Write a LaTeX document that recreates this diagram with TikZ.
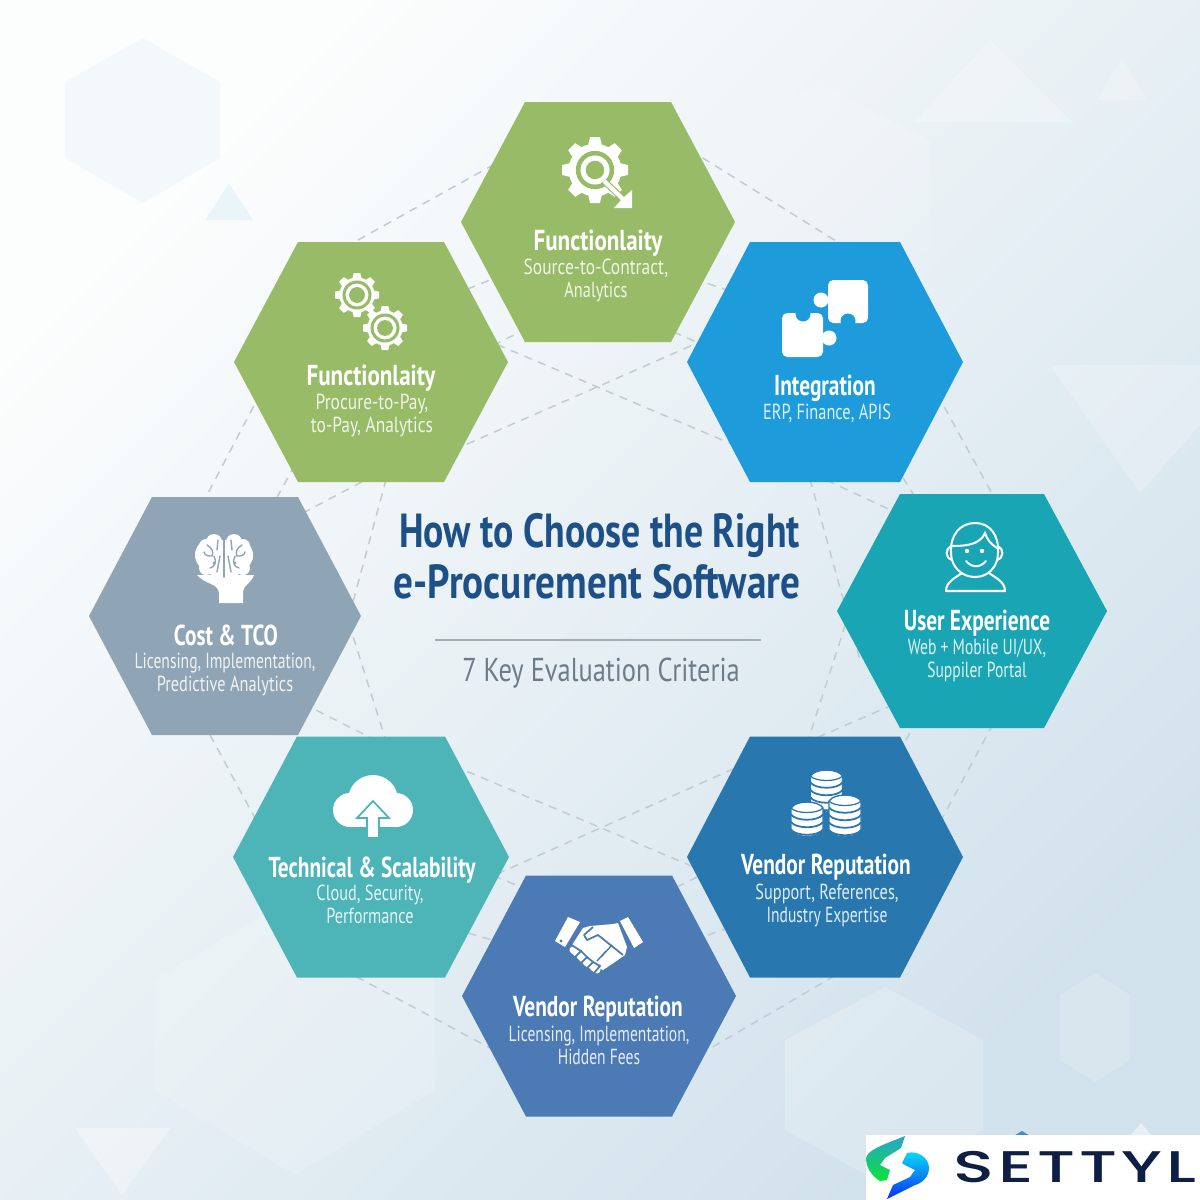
\documentclass[tikz,border=0pt]{standalone}
\usepackage{fontspec}
\usetikzlibrary{calc}
\setmainfont[FakeStretch=0.8]{PT Sans}
\newfontfamily\logofont[FakeStretch=1.52,LetterSpace=9]{Poppins Medium}
\newfontfamily\headf[FakeStretch=0.74]{PT Sans}
\newfontfamily\subf[FakeStretch=0.75]{PT Sans}
\newfontfamily\subg[FakeStretch=0.715]{PT Sans}
\newfontfamily\titlea[FakeStretch=0.79]{PT Sans}
\newfontfamily\titleb[FakeStretch=0.82]{PT Sans}
\definecolor{cgreen}{HTML}{97BB67}
\definecolor{cblue}{HTML}{1D9BDB}
\definecolor{cteal}{HTML}{19A5B3}
\definecolor{cvrep}{HTML}{2877AE}
\definecolor{cbot}{HTML}{4B7AB5}
\definecolor{ctech}{HTML}{4DB4B8}
\definecolor{ccost}{HTML}{8FA5B5}
\definecolor{ctitle}{HTML}{1E5088}
\definecolor{csub}{HTML}{6E7C88}
\definecolor{clink}{HTML}{C2CBD3}
\definecolor{clogo}{HTML}{0E1F45}
\definecolor{bga}{HTML}{FCFDFD}
\definecolor{bgb}{HTML}{EEF4F7}
\definecolor{bgc}{HTML}{D2E2EC}
\tikzset{
  link/.style={draw=clink,line width=0.42pt,dash pattern=on 2.3pt off 1.9pt},
  headtext/.style={text=white,font=#1\fontsize{8.2}{8.2}\selectfont\bfseries,inner sep=0pt},
  headtext/.default=\headf,
  subtext/.style={text=white,text opacity=.86,font=#1\fontsize{6.2}{6.7}\selectfont,align=center,inner sep=0pt},
  subtext/.default=\subf,
  deco/.style={fill=white,fill opacity=.22},
  decoblue/.style={fill=cblue,fill opacity=.07}
}
\newcommand\hexa[5]{\fill[#5,shift={(#1)}] (-#2,0)--(-#4,-#3)--(#4,-#3)--(#2,0)--(#4,#3)--(-#4,#3)--cycle;}
\newcommand\gearicon[6]{%
 \begin{scope}[shift={(#1,#2)}]
  \fill[white] (0,0) circle ({#3*.8});
  \foreach \k in {1,...,#4}{\fill[white,rotate={\k*360/#4}] ({#3*.7},{-#3*.22})--(#3,{-#3*.15})--(#3,{#3*.15})--({#3*.7},{#3*.22})--cycle;}
  \fill[#5] (0,0) circle ({#3*#6});
  \fill[white] (0,0) circle ({#3*(#6-.14)});
  \fill[#5] (0,0) circle ({#3*(#6-.3)});
 \end{scope}}
\newcommand\coinstack[4]{%
 \pgfmathsetmacro\xa{#1-16}\pgfmathsetmacro\xb{#1+16}\pgfmathsetmacro\xc{#1-11}\pgfmathsetmacro\xd{#1+11}
 \pgfmathsetmacro\yb{#2+#3*7.5}
 \filldraw[fill=white,draw=#4,line width=.4pt] (\xa,#2)--(\xa,\yb) .. controls (\xc,{\yb+8}) and (\xd,{\yb+8}) .. (\xb,\yb)--(\xb,#2) .. controls (\xd,{#2-8}) and (\xc,{#2-8}) .. cycle;
 \draw[#4,line width=.35pt] (\xa,#2) .. controls (\xc,{#2+6}) and (\xd,{#2+6}) .. (\xb,#2);
 \foreach \i in {1,...,#3}{\draw[#4,line width=.5pt] (\xa,{#2+\i*7.5-1}) .. controls (\xc,{#2+\i*7.5+6}) and (\xd,{#2+\i*7.5+6}) .. (\xb,{#2+\i*7.5-1});}
}
\begin{document}
\begin{tikzpicture}[x=0.01cm,y=-0.01cm]
\useasboundingbox (0,0) rectangle (1200,1200);
% background
\shade[top color=bga,middle color=bgb,bottom color=bgc,shading angle=45] (0,0) rectangle (1200,1200);
% faint background shapes
\fill[fill=cblue,fill opacity=.04] (143,38)--(220,82)--(220,158)--(143,203)--(65,158)--(65,82)--cycle;
\fill[decoblue] (229,183)--(253,220)--(205,220)--cycle;
\fill[deco] (990,40)--(1072,122)--(915,122)--cycle;
\fill[deco] (1122,58)--(1147,100)--(1097,100)--cycle;
\fill[deco] (1050,365)--(1200,365)--(1200,425)--(1140,493)--cycle;
\fill[deco,fill opacity=.12] (820,85)--(930,140)--(930,250)--(820,305)--(715,250)--(715,140)--cycle;
\fill[deco,fill opacity=.2] (885,987)--(983,1040)--(983,1130)--(885,1185)--(785,1130)--(785,1040)--cycle;
\fill[deco,fill opacity=.14] (1095,973)--(1130,995)--(1130,1060)--(1095,1082)--(1060,1060)--(1060,995)--cycle;
\fill[deco,fill opacity=.16] (295,895)--(435,980)--(435,1090)--(295,1175)--(155,1090)--(155,980)--cycle;
\fill[deco,fill opacity=.32] (75,1128)--(170,1128)--(122,1195)--cycle;
\fill[deco,fill opacity=.5] (1141,1123)--(1155,1140)--(1127,1140)--cycle;
\fill[cvrep,fill opacity=.8] (1022,1131)--(1032,1137)--(1012,1137)--cycle;
% hub coordinates
\coordinate (top) at (598,222);
\coordinate (func) at (371,362);
\coordinate (integ) at (825,362);
\coordinate (ux) at (972,611);
\coordinate (cost) at (225,616);
\coordinate (tech) at (371,857);
\coordinate (vrep) at (825,857);
\coordinate (bot) at (599,996);
% dashed connectors
\draw[link] ($(top)+(-78,-72)$) -- ($(func)+(-31,-112)$);
\draw[link] ($(top)+(92,-72)$) -- ($(integ)+(35,-106)$);
\draw[link] ($(integ)+(105,19)$) -- ($(ux)+(28,-103)$);
\draw[link] ($(ux)+(28,100)$) -- ($(vrep)+(105,-16)$);
\draw[link] ($(vrep)+(35,104)$) -- ($(bot)+(81,70)$);
\draw[link] ($(bot)+(-79,68)$) -- ($(tech)+(-31,111)$);
\draw[link] ($(tech)+(-101,-11)$) -- ($(cost)+(-30,91)$);
\draw[link] ($(cost)+(-30,-98)$) -- ($(func)+(-101,13)$);
\draw[link] ($(func)+(69,94)$) -- ($(integ)+(-105,-29)$);
\draw[link] ($(func)+(99,-29)$) -- ($(integ)+(-65,94)$);
\draw[link] ($(func)+(69,-62)$) -- ($(top)+(-78,46)$);
\draw[link] ($(func)+(109,-10)$) -- ($(top)+(-58,100)$);
\draw[link] ($(top)+(82,52)$) -- ($(integ)+(-75,-64)$);
\draw[link] ($(top)+(62,104)$) -- ($(integ)+(-115,-14)$);
\draw[link] ($(integ)+(-19,103)$) -- ($(ux)+(-112,49)$);
\draw[link] ($(integ)+(-25,106)$) -- ($(ux)+(-62,-92)$);
\draw[link] ($(integ)+(70,103)$) -- ($(ux)+(-52,-106)$);
\draw[link] ($(ux)+(-122,-1)$) -- ($(vrep)+(-20,-107)$);
\draw[link] ($(ux)+(-52,82)$) -- ($(vrep)+(-25,-112)$);
\draw[link] ($(ux)+(-47,97)$) -- ($(vrep)+(70,-99)$);
\draw[link] ($(func)+(19,103)$) -- ($(cost)+(115,34)$);
\draw[link] ($(cost)+(115,-21)$) -- ($(tech)+(21,-97)$);
\draw[link] ($(func)+(4,113)$) -- ($(cost)+(55,-91)$);
\draw[link] ($(cost)+(65,81)$) -- ($(tech)+(24,-107)$);
\draw[link] ($(func)+(-76,103)$) -- ($(cost)+(45,-106)$);
\draw[link] ($(tech)+(69,-97)$) -- ($(vrep)+(-105,21)$);
\draw[link] ($(tech)+(99,29)$) -- ($(vrep)+(-65,-100)$);
\draw[link] ($(tech)+(109,13)$) -- ($(bot)+(-54,-99)$);
\draw[link] ($(tech)+(69,68)$) -- ($(bot)+(-89,-51)$);
\draw[link] ($(bot)+(51,-96)$) -- ($(vrep)+(-105,9)$);
\draw[link] ($(bot)+(81,-51)$) -- ($(vrep)+(-75,63)$);
% hexagons
\hexa{top}{137}{120}{73}{cgreen}
\hexa{func}{137}{120}{73}{cgreen}
\hexa{integ}{138}{120}{75}{cblue}
\hexa{ux}{135}{117}{72}{cteal}
\hexa{cost}{136}{119}{73}{ccost}
\hexa{tech}{138}{120.5}{74}{ctech}
\hexa{vrep}{138}{120.5}{75}{cvrep}
\hexa{bot}{137}{120.5}{73}{cbot}
% texts
\node[headtext=\rmfamily] (h1) at (598,243) {Functionlaity};
\node[subtext,anchor=north] (s1) at (596,258) {{\rmfamily Source-to-Contract,}\\Analytics};
\node[headtext=\rmfamily] (h2) at (371,378) {Functionlaity};
\node[subtext=\rmfamily,anchor=north] (s2) at (372,393) {Procure-to-Pay,\\to-Pay, Analytics};
\node[headtext] (h3) at (825,388) {Integration};
\node[subtext,anchor=north] (s3) at (827,403) {ERP, Finance, APIS};
\node[headtext] (h4) at (977,623) {User Experience};
\node[subtext=\subg,anchor=north] (s4) at (977,638) {Web + Mobile UI/UX,\\Suppiler Portal};
\node[headtext] (h5) at (226,635) {Cost \& TCO};
\node[subtext,anchor=north] (s5) at (225,652) {{\subg Licensing, Implementation,}\\Predictive Analytics};
\node[headtext] (h6) at (372,870) {Technical \& Scalability};
\node[subtext,anchor=north] (s6) at (370,884) {Cloud, Security,\\Performance};
\node[headtext] (h7) at (826,867) {Vendor Reputation};
\node[subtext,anchor=north] (s7) at (827,883) {Support, References,\\{\subg Industry Expertise}};
\node[headtext] (h8) at (598,1009) {Vendor Reputation};
\node[subtext=\subg,anchor=north] (s8) at (599,1025) {Licensing, Implementation,\\Hidden Fees};
% centre
\node[text=ctitle,font=\titlea\fontsize{13.6}{13.6}\selectfont\bfseries,inner sep=0pt] (t1) at (599.5,535.5) {How to Choose the Right};
\node[text=ctitle,font=\titleb\fontsize{13.6}{13.6}\selectfont\bfseries,inner sep=0pt] (t2) at (597,582) {e-Procurement Software};
\coordinate (ruleL) at (435,640);
\coordinate (ruleR) at (761,640);
\draw[draw=clink!85!black,line width=.55pt] (ruleL) -- (ruleR);
\node[text=csub,font=\fontsize{9.4}{9.4}\selectfont,inner sep=0pt] (t3) at (601,673) {7 Key Evaluation Criteria};
% icon: gear + magnifier
\gearicon{595}{170}{33}{8}{cgreen}{.58}
\draw[cgreen,line width=1.8pt] (604,181) -- (622,198);
\fill[white] (605,179)--(609,183)--(624,197)--(632,190)--(632,208)--(614,208)--(621,200)--(603,183)--cycle;
% icon: two gears
\gearicon{357}{295}{22}{8}{cgreen}{.66}
\gearicon{385}{328}{22}{8}{cgreen}{.66}
% icon: puzzle
\fill[white,rounded corners=1.5pt] (828,280) rectangle (868,323);
\fill[white] (821,300) circle (7.5);
\fill[cblue] (848,321) circle (7.5);
\fill[white,rounded corners=1.5pt] (782,313) rectangle (823,357);
\fill[white] (829,338) circle (7.5);
\fill[cblue] (803,314) circle (7.5);
% icon: user
\begin{scope}[draw=white,line width=.58pt,line cap=round]
\draw (951,553) .. controls (950,535) and (960,523) .. (975,523) .. controls (990,523) and (999,535) .. (998,553);
\draw (951,553) .. controls (951,567) and (962,577) .. (975,577) .. controls (988,577) and (998,567) .. (998,553);
\draw (951,546) .. controls (945,549) and (945,558) .. (952,560);
\draw (998,546) .. controls (1004,549) and (1004,558) .. (997,560);
\draw (952,546) .. controls (965,546) and (980,545) .. (985,533) .. controls (987,540) and (992,545) .. (997,548);
\draw (966,561) .. controls (972,568) and (980,568) .. (986,561);
\draw (946,591)--(1005,591) .. controls (1005,582) and (996,578) .. (989,573);
\draw (946,591) .. controls (946,582) and (955,578) .. (962,573);
\end{scope}
\fill[white] (967,551) circle (2.2);
\fill[white] (982,551) circle (2.2);
% icon: coins
\coinstack{826.5}{776}{4}{cvrep}
\coinstack{807}{808}{3}{cvrep}
\coinstack{845}{801}{4}{cvrep}
% icon: handshake
\fill[white] (568,917)--(580,922)--(565,947)--(555,941)--cycle;
\fill[cbot] (561,941) circle (1.6);
\fill[white] (628,917)--(620,921)--(634,948)--(643,942)--cycle;
\fill[white] (583,928)--(590,926)--(613,924)--(618,923)--(627,947)--(625,955)--(615,962)--(603,970)--(598,968)--(572,945)--cycle;
\draw[cbot,line width=.5pt,line join=round] (593,927)--(584,935)--(587,940)--(598,935)--(623,955);
\draw[cbot,line width=.4pt] (612,945)--(601,957);
\draw[cbot,line width=.4pt] (606,951)--(597,961);
\draw[white,line width=2pt,line cap=round] (573,950)--(578,954);
\draw[white,line width=2pt,line cap=round] (580,956)--(584,960);
\draw[white,line width=2pt,line cap=round] (586,962)--(590,965);
\draw[white,line width=2pt,line cap=round] (593,967)--(597,970);
\draw[cbot,line width=.5pt] (570,944)--(581,951)--(574,958);
\draw[cbot,line width=.5pt] (581,951)--(587,957)--(581,963);
\draw[cbot,line width=.5pt] (587,957)--(593,962)--(587,968);
\draw[cbot,line width=.5pt] (593,962)--(600,966)--(594,973);
% icon: brain
\fill[white] (197,575) .. controls (206,585) and (218,583) .. (219,593) -- (219,603) -- (243,603) -- (243,592) .. controls (244,584) and (250,585) .. (254,575) -- cycle;
\foreach \cx/\cy/\r in {211/555/16,214/542/8,206/546/7,203/557/7,206/568/7,216/570/7,
                        237/555/16,234/542/8,243/546/7,246/557/7,243/568/7,233/570/7}{\fill[white] (\cx,\cy) circle (\r);}
\fill[white] (212,540) rectangle (236,578);
\begin{scope}[draw=ccost,line width=.4pt,line cap=round]
\draw[line width=.45pt] (224,535)--(224,577);
\draw (207,545) .. controls (212,548) and (214,552) .. (212,556) .. controls (208,556) and (205,556) .. (204,552);
\draw (214,556) .. controls (217,562) and (215,567) .. (210,568);
\draw (218,540)--(217,550);
\draw (220,556)--(217,572);
\draw (242,545) .. controls (237,548) and (235,552) .. (237,556) .. controls (241,556) and (244,556) .. (245,552);
\draw (235,556) .. controls (232,562) and (234,567) .. (239,568);
\draw (231,540)--(232,550);
\draw (228,556)--(231,572);
\end{scope}
\fill[ccost] (214,563) circle (1.6);
\fill[ccost] (235,563) circle (1.6);
% icon: cloud
\fill[white] (373,800) circle (25);
\fill[white] (350,810) circle (17);
\fill[white] (396,810) circle (17);
\fill[white] (350,806) rectangle (396,827);
\filldraw[fill=white,draw=ctech,line width=.5pt,line join=miter] (373,801)--(389,818)--(379,818)--(379,838)--(367,838)--(367,818)--(357,818)--cycle;
% logo
\fill[white] (866,1135) rectangle (1200,1200);
\node[anchor=west,text=clogo,inner sep=0pt,font=\logofont\fontsize{12.6}{12.6}\selectfont] (logo) at (953,1167) {SETTYL};
\shade[top color=cblue!70!ctech,bottom color=green!70!cteal]
  (905,1136)--(901,1148)--(885,1158)--(880,1165)--(890,1170)--(887,1180)--(880,1181)
  .. controls (872,1176) and (866,1168) .. (866,1158) .. controls (868,1150) and (880,1146) .. cycle;
\shade[top color=cyan!70!cblue,bottom color=blue!70!cblue]
  (887,1199)--(893,1185)--(910,1177)--(915,1170)--(905,1165)--(902,1163)--(907,1153)
  .. controls (918,1150) and (929,1158) .. (929,1168) .. controls (929,1178) and (920,1184) .. (915,1185) -- cycle;
\end{tikzpicture}
\end{document}
